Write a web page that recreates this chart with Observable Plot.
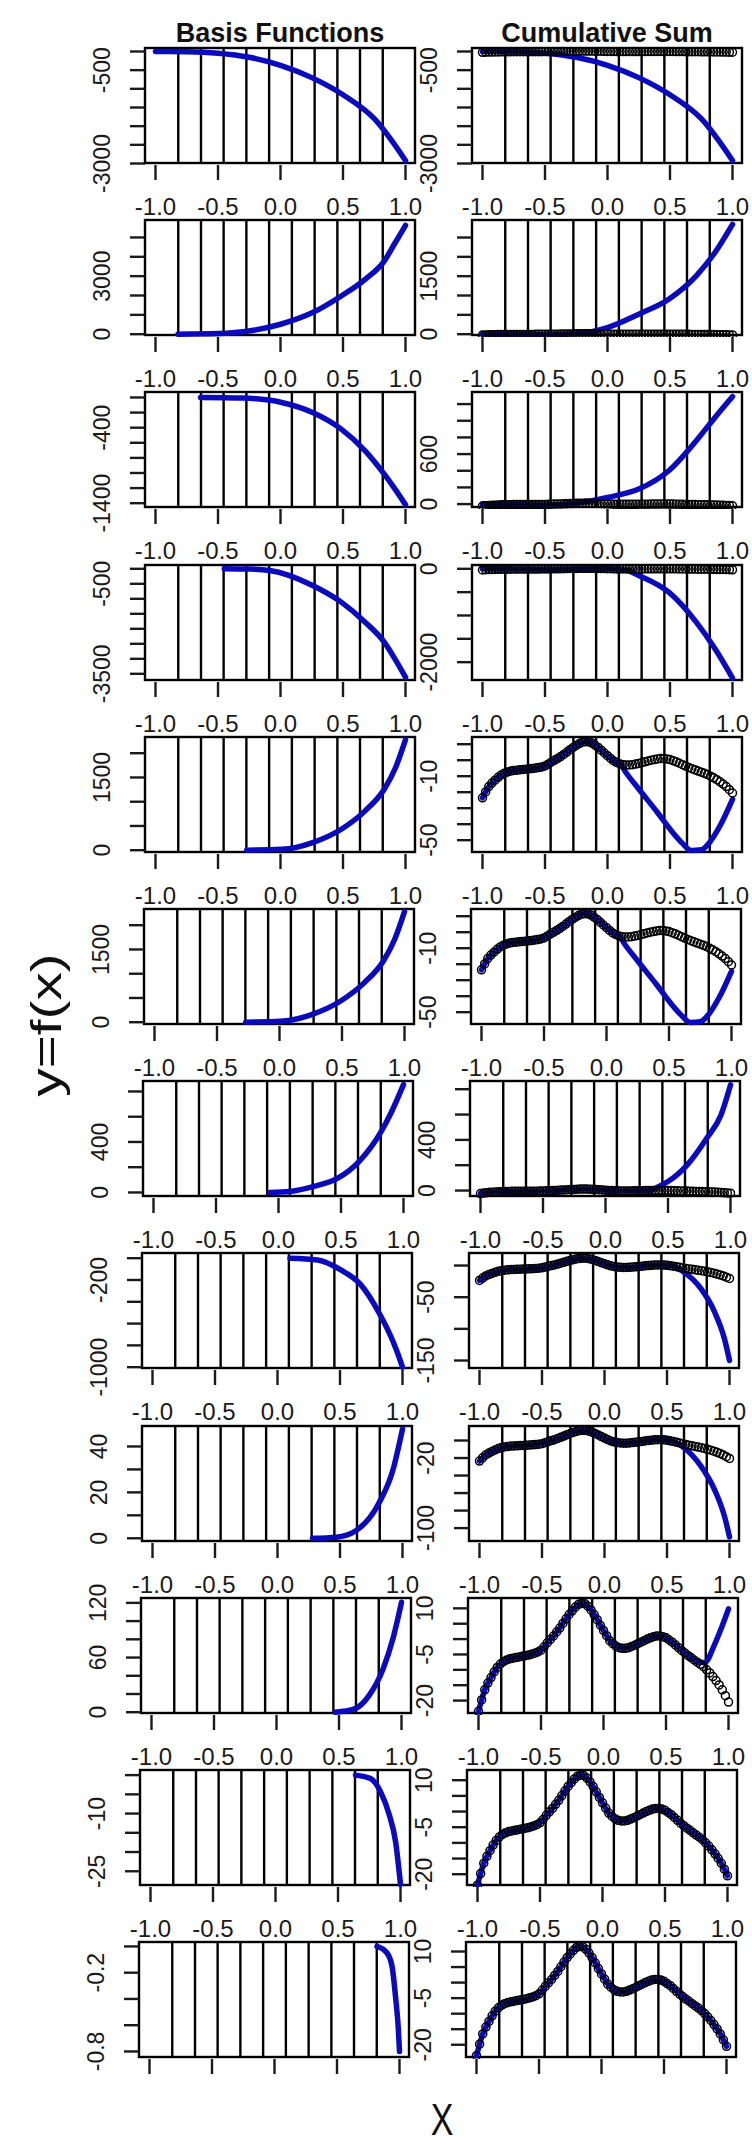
<!DOCTYPE html>
<html><head><meta charset="utf-8">
<script src="https://cdn.jsdelivr.net/npm/d3@7"></script>
<script src="https://cdn.jsdelivr.net/npm/@observablehq/plot@0.6"></script>
<style>
body{margin:0;background:#fff;}
#wrap{position:relative;width:752px;height:2146px;background:#fff;overflow:hidden;font-family:"Liberation Sans",Arial,sans-serif;}
</style></head><body><div id="wrap"></div>
<script>
// ---------------- data ----------------
const titles = ["Basis Functions", "Cumulative Sum"];
const xLabel = "X";
const yLabel = "y=f(x)";
const xTicks = [-1, -0.5, 0, 0.5, 1];
const knots = [-0.818, -0.636, -0.455, -0.273, -0.091, 0.091, 0.273, 0.455, 0.636, 0.818];

// target function (open circles)
const targetX = [-1, -0.975, -0.95, -0.925, -0.9, -0.875, -0.85, -0.825, -0.8, -0.775, -0.75, -0.725, -0.7, -0.675, -0.65, -0.625,
  -0.6, -0.575, -0.55, -0.525, -0.5, -0.475, -0.45, -0.425, -0.4, -0.375, -0.35, -0.325, -0.3, -0.275, -0.25, -0.225,
  -0.2, -0.175, -0.15, -0.125, -0.1, -0.075, -0.05, -0.025, 0, 0.025, 0.05, 0.075, 0.1, 0.125, 0.15, 0.175,
  0.2, 0.225, 0.25, 0.275, 0.3, 0.325, 0.35, 0.375, 0.4, 0.425, 0.45, 0.475, 0.5, 0.525, 0.55, 0.575,
  0.6, 0.625, 0.65, 0.675, 0.7, 0.725, 0.75, 0.775, 0.8, 0.825, 0.85, 0.875, 0.9, 0.925, 0.95, 0.975, 1];
const targetY = [-23.5, -19.8, -16.5, -14.3, -12.5, -10.7, -9.2, -8.1, -7.3, -6.8, -6.4, -6.2, -6.0, -5.8, -5.6, -5.4,
  -5.2, -4.9, -4.6, -4.2, -3.6, -2.5, -1.2, -0.1, 1.0, 2.3, 3.6, 5.1, 6.6, 8.0, 9.2, 10.4,
  11.3, 11.6, 11.5, 10.7, 9.5, 8.0, 6.3, 4.5, 2.8, 1.1, -0.5, -1.5, -2.3, -2.8, -3.0, -3.0,
  -2.8, -2.4, -2.0, -1.5, -1.0, -0.5, 0.0, 0.4, 0.8, 1.0, 1.0, 0.8, 0.4, -0.3, -1.0, -1.9,
  -2.8, -3.7, -4.5, -5.3, -6.0, -6.8, -7.5, -8.2, -9.0, -10.0, -11.0, -12.2, -13.5, -14.9, -16.5, -18.4, -20.5];

// basis functions (left column), [x, y]
const basis1 = [[-1, 0], [-0.75, -6], [-0.5, -45], [-0.25, -155], [0, -370], [0.25, -700], [0.5, -1160], [0.75, -1800], [1, -2920]];
const basis2 = [[-0.82, 0], [-0.5, 30], [-0.24, 175], [0, 515], [0.257, 1117], [0.486, 1976], [0.677, 2835], [0.83, 3780], [0.915, 4700], [1, 5620]];
const basis3 = [[-0.64, 0], [-0.3, -8], [0.01, -66], [0.257, -199], [0.486, -419], [0.677, -706], [0.83, -1015], [0.915, -1210], [1, -1420]];
const basis4 = [[-0.45, 0], [-0.25, -10], [-0.087, -56], [0.257, -555], [0.486, -1111], [0.677, -1778], [0.83, -2444], [0.915, -3000], [1, -3611]];
const basis5 = [[-0.27, 0], [0.01, 18], [0.257, 158], [0.486, 433], [0.677, 811], [0.83, 1258], [0.92, 1700], [1, 2280]];
const basis6 = [[-0.27, 0], [0.01, 18], [0.257, 158], [0.486, 433], [0.677, 811], [0.83, 1258], [0.92, 1700], [1, 2280]];
const basis7 = [[-0.07, 0], [0.09, 8], [0.285, 48], [0.474, 113], [0.644, 245], [0.814, 470], [0.9, 630], [1, 855]];
const basis8 = [[0.1, 0], [0.32, -16], [0.51, -110], [0.664, -240], [0.814, -505], [0.93, -780], [0.97, -900], [1, -1000]];
const basis9 = [[0.28, 0], [0.47, 0.5], [0.624, 3.2], [0.814, 15.6], [0.93, 31], [0.965, 39], [1, 47.6]];
const basis10 = [[0.47, 0], [0.624, 3.7], [0.74, 18.3], [0.854, 48], [0.93, 80], [1, 120.7]];
const basis11 = [[0.64, 0], [0.76, -0.9], [0.84, -4.3], [0.91, -10.3], [0.96, -17.2], [1, -28.4]];
const basis12 = [[0.82, 0], [0.9, -0.05], [0.94, -0.15], [0.97, -0.4], [0.99, -0.62], [1, -0.8]];

// cumulative sums (right column, blue)
const cum1 = [[-1, 0], [-0.75, -6], [-0.5, -45], [-0.25, -155], [0, -370], [0.25, -700], [0.5, -1160], [0.75, -1800], [1, -2920]];
const cum2 = [[-1, 0], [-0.75, -6], [-0.5, -15], [-0.25, 15], [0, 172], [0.25, 517], [0.49, 905], [0.71, 1509], [0.86, 2112], [1, 2840]];
const cum3 = [[-1, 0], [-0.5, -10], [-0.25, 10], [0, 80], [0.25, 180], [0.49, 400], [0.71, 760], [0.86, 1040], [1, 1290]];
const cum4 = [[-1, 0], [-0.5, -10], [0, 0], [0.15, -30], [0.25, -143], [0.49, -500], [0.71, -1143], [0.86, -1714], [1, -2340]];
// rows 5-10 follow the target up to a split point, then leave it
const cumSplit = [null, null, null, null, 0.1, 0.1, 0.35, 0.55, 0.55, 0.75, 1, 1];
const cumTail5 = [[0.15, -8], [0.25, -18], [0.4, -32.7], [0.52, -45], [0.6, -52], [0.67, -56.5], [0.75, -56], [0.8, -53], [0.9, -41], [1, -24.4]];
const cumTail6 = [[0.15, -8], [0.25, -18], [0.4, -32.7], [0.52, -45], [0.6, -52], [0.67, -56.5], [0.75, -56], [0.8, -53], [0.9, -41], [1, -24.4]];
const cumTail7 = [[0.424, 31], [0.5, 71], [0.654, 203], [0.81, 413], [0.924, 597], [1, 834]];
const cumTail8 = [[0.613, -7.5], [0.773, -37], [0.88, -73], [0.96, -116], [1, -150]];
const cumTail9 = [[0.64, -8.6], [0.773, -29.5], [0.88, -56], [0.96, -86.6], [1, -110]];
const cumTail10 = [[0.81, -7.6], [0.885, -2.1], [0.94, 3.3], [1, 9.8]];

// y axes
const leftDomains = [[-3000, 80], [-67, 5876], [-1457, 66], [-3723, 110], [-47, 2324], [-47, 2324],
  [-32, 879], [-1012, 43], [-1.4, 48.7], [-1.4, 124.8], [-28.7, 1.2], [-0.846, 0.03]];
const leftTicks = [[0, -500, -1000, -1500, -2000, -2500, -3000], [0, 1000, 2000, 3000, 4000, 5000],
  [0, -200, -400, -600, -800, -1000, -1200, -1400], [0, -500, -1000, -1500, -2000, -2500, -3000, -3500],
  [0, 500, 1000, 1500, 2000], [0, 500, 1000, 1500, 2000], [0, 200, 400, 600, 800],
  [0, -200, -400, -600, -800, -1000], [0, 10, 20, 30, 40], [0, 20, 40, 60, 80, 100, 120],
  [0, -5, -10, -15, -20, -25], [0, -0.2, -0.4, -0.6, -0.8]];
const leftLabels = [[-500, -3000], [0, 3000], [-400, -1400], [-500, -3500], [0, 1500], [0, 1500], [0, 400],
  [-200, -1000], [0, 20, 40], [0, 60, 120], [-10, -25], [-0.2, -0.8]];
const rightDomains = [[-3000, 80], [-34, 2940], [-41, 1339], [-2393, 71], [-57.7, 14.2], [-57.7, 14.2],
  [-47, 861], [-162.6, 19], [-115.3, 16], [-24.2, 13.2], [-23.6, 13.1], [-24.1, 12.9]];
const rightTicks = [[0, -500, -1000, -1500, -2000, -2500, -3000], [0, 500, 1000, 1500, 2000, 2500],
  [0, 200, 400, 600, 800, 1000, 1200], [0, -500, -1000, -1500, -2000],
  [10, 0, -10, -20, -30, -40, -50], [10, 0, -10, -20, -30, -40, -50], [0, 200, 400, 600, 800],
  [0, -50, -100, -150], [0, -20, -40, -60, -80, -100],
  [10, 5, 0, -5, -10, -15, -20], [10, 5, 0, -5, -10, -15, -20], [10, 5, 0, -5, -10, -15, -20]];
const rightLabels = [[-500, -3000], [0, 1500], [0, 600], [0, -2000], [-10, -50], [-10, -50], [0, 400],
  [-50, -150], [-20, -100], [10, -5, -20], [10, -5, -20], [10, -5, -20]];

// ---------------- layout ----------------
const xDomain = [-1.08, 1.08];
const BLUE = "#0b0bbd";
const boxW = 270, boxH = 115, mL = 70, mT = 6, mR = 6, mB = 60;
const W = mL + boxW + mR, H = mT + boxH + 2 + mB;
const rowTop = i => 48 + i * 172.2;
const rowShift = [0, 0, 0, 0, 0, -1, -2, -3, -3, -4, -5, -6];
const colLeft = [145, 472];

const targetPts = targetX.map((x, i) => [x, targetY[i]]);
const basis = [basis1, basis2, basis3, basis4, basis5, basis6, basis7, basis8, basis9, basis10, basis11, basis12];
const tails = [null, null, null, null, cumTail5, cumTail6, cumTail7, cumTail8, cumTail9, cumTail10, [], []];
const cumHead = [cum1, cum2, cum3, cum4];
function cumSeries(i) {
  if (i < 4) return cumHead[i];
  return targetPts.filter(p => p[0] <= cumSplit[i]).concat(tails[i]);
}

const wrap = document.getElementById("wrap");

function panel(domain, ticks, labels, curve, dots, showX) {
  const marks = [
    Plot.ruleX(knots, {x: d => d, y1: domain[0], y2: domain[1], stroke: "#000", strokeWidth: 2.4}),
    Plot.rect([0], {x1: xDomain[0], x2: xDomain[1], y1: domain[0], y2: domain[1], fill: "none", stroke: "#000", strokeWidth: 2.4}),
    Plot.line(curve, {x: d => d[0], y: d => d[1], stroke: BLUE, strokeWidth: 5.5, curve: "monotone-x", clip: true})
  ];
  if (dots) marks.push(Plot.dot(dots, {x: d => d[0], y: d => d[1], r: 4, stroke: "#000", strokeWidth: 1.5, fill: "none", clip: true}));
  marks.push(
    Plot.axisX({ticks: xTicks, tickFormat: showX ? (d => d.toFixed(1)) : (() => ""), tickSize: 15, tickPadding: 17, fontSize: 24, strokeWidth: 2.4, label: null}),
    Plot.axisY({ticks: ticks, tickFormat: () => "", tickSize: 15, strokeWidth: 2.4, label: null}),
    Plot.text(labels, {x: xDomain[0], y: d => d, text: d => String(d), rotate: -90, dx: -43, fontSize: 23,
      textAnchor: "middle", lineAnchor: "middle", fill: "#1a1a1a"})
  );
  return Plot.plot({
    width: W, height: H,
    marginLeft: mL, marginRight: mR, marginTop: mT, marginBottom: mB,
    style: {background: "transparent", overflow: "visible", fontFamily: "Liberation Sans, Arial, sans-serif", color: "#1a1a1a"},
    x: {domain: xDomain, axis: null},
    y: {domain: domain, range: [mT + boxH, mT], axis: null},
    marks
  });
}

for (let i = 0; i < 12; i++) {
  const top = rowTop(i) - mT;
  const showX = i < 11;
  const specs = [
    [leftDomains[i], leftTicks[i], leftLabels[i], basis[i], null, showX],
    [rightDomains[i], rightTicks[i], rightLabels[i], cumSeries(i), targetPts, showX]
  ];
  specs.forEach((s, c) => {
    const svg = panel(...s);
    svg.style.position = "absolute";
    svg.style.left = (colLeft[c] - mL + rowShift[i]) + "px";
    svg.style.top = top + "px";
    svg.style.maxWidth = "none";
    wrap.appendChild(svg);
  });
}

// titles and axis labels
const ov = d3.select(wrap).append("svg")
  .attr("width", 752).attr("height", 2146)
  .style("position", "absolute").style("left", 0).style("top", 0).style("pointer-events", "none")
  .style("font-family", "Liberation Sans, Arial, sans-serif");
ov.append("text").attr("x", 280).attr("y", 42).attr("text-anchor", "middle")
  .attr("font-size", 27).attr("font-weight", "bold").attr("fill", "#111").text(titles[0]);
ov.append("text").attr("x", 607).attr("y", 42).attr("text-anchor", "middle")
  .attr("font-size", 27).attr("font-weight", "bold").attr("fill", "#111").text(titles[1]);
ov.append("text").attr("transform", "translate(442,2135) scale(1,1.3)").attr("text-anchor", "middle")
  .attr("font-size", 34).attr("fill", "#111").text(xLabel);
ov.append("text").attr("transform", "translate(61,1025) scale(1,1.35) rotate(-90)").attr("text-anchor", "middle")
  .attr("font-size", 42).attr("fill", "#111").text(yLabel);
</script>
</body></html>
